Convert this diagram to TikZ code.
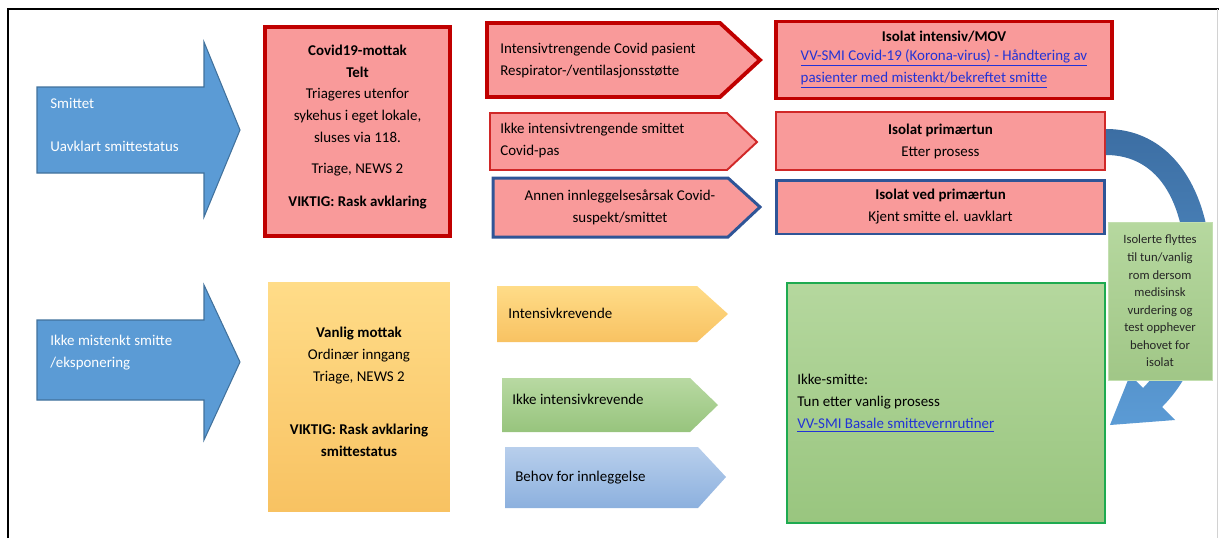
\documentclass[tikz,border=0pt]{standalone}
\usepackage{fontspec}
\setmainfont{Carlito}
\usepackage{xcolor}
\usepackage{tikz}
\usetikzlibrary{positioning,calc}
\definecolor{covred}{HTML}{C00000}
\definecolor{covredlt}{HTML}{D02828}
\definecolor{covpink}{HTML}{F99A9A}
\definecolor{covnavy}{HTML}{2F5597}
\definecolor{smblue}{HTML}{5B9BD5}
\definecolor{smbluedk}{HTML}{41719C}
\definecolor{bandtop}{HTML}{3C6EA3}
\definecolor{bandbot}{HTML}{5B9BD5}
\definecolor{orgtop}{HTML}{FFDC88}
\definecolor{orgbot}{HTML}{F8C262}
\definecolor{grntop}{HTML}{B8D9A2}
\definecolor{grnbot}{HTML}{97C47D}
\definecolor{blutop}{HTML}{B8CFEC}
\definecolor{blubot}{HTML}{8CB0DE}
\definecolor{okgreen}{HTML}{1EAA50}
\definecolor{notegrn}{HTML}{A9D18E}
\definecolor{linkblue}{HTML}{2233D6}
\newcommand{\covlink}[1]{\textcolor{linkblue}{\underline{#1}}}
\tikzset{
  casebox/.style={
    rectangle, draw=#1, fill=covpink, line width=2.2pt,
    font=\fontsize{8.5}{12.5}\selectfont, align=center,
    inner sep=0pt
  },
  casebox/.default=covred,
  caseflag/.style={
    draw=#1, fill=covpink, line width=2.2pt, line join=miter
  },
  caseflag/.default=covred,
  gradflag/.style 2 args={
    top color=#1, bottom color=#2, draw=none
  },
  bigarrow/.style={
    draw=smbluedk, fill=smblue, line width=0.6pt
  },
  flagtext/.style={
    font=\fontsize{8.5}{12.5}\selectfont, align=left,
    anchor=west, inner sep=0pt, text=#1
  },
  flagtext/.default=black,
}

\begin{document}
\begin{tikzpicture}[x=0.02cm, y=-0.02cm,
  notebox/.style={rectangle, draw=notegrn!70!white, top color=notegrn!85!white,
    bottom color=notegrn!95!black, line width=0.4pt,
    minimum width=2.08cm, minimum height=3.16cm,
    font=\fontsize{7.2}{10}\selectfont, align=center, text=black!85}]
  \useasboundingbox (0,0) rectangle (1219,538);
  \draw[line width=1.4pt] (8,538) -- (8,9) -- (1219,9);
  \draw[gray!35, line width=0.5pt] (1217.5,9) -- (1217.5,538);

  \draw[bigarrow] (37,87) -- (204,87) -- (204,42) -- (240,130) -- (204,217) -- (204,173) -- (37,173) -- cycle;
  \node[flagtext=white] (smittet) at (50,124.5) {Smittet\\[12pt]Uavklart smittestatus};
  \draw[bigarrow] (37,320) -- (204,320) -- (204,285) -- (240,362) -- (204,440) -- (204,400) -- (37,400) -- cycle;
  \node[flagtext=white] (ikkemist) at (50,353) {Ikke mistenkt smitte\\/eksponering};

  \node[casebox, minimum width=3.7cm, minimum height=4.18cm] (telt) at (357.5,131.5)
    {\textbf{Covid19-mottak}\\ \textbf{Telt}\\ Triageres utenfor\\ sykehus i eget lokale,\\ sluses via 118.\\[5pt]
     Triage, NEWS 2\\[6pt] \textbf{VIKTIG: Rask avklaring}\\[-5.5pt]\mbox{}};
  \node[rectangle, gradflag={orgtop}{orgbot}, minimum width=3.64cm, minimum height=4.6cm,
    font=\fontsize{8.5}{12.5}\selectfont, align=center, inner sep=0pt] (vanlig) at (359,397)
    {\textbf{Vanlig mottak}\\ Ordinær inngang\\ Triage, NEWS 2\\[18pt]
     \textbf{VIKTIG: Rask avklaring}\\ \textbf{smittestatus}\\[-6.5pt]\mbox{}};

  \draw[caseflag] (487,23) -- (720,23) -- (760,60) -- (720,97) -- (487,97) -- cycle;
  \node[flagtext] (intflag) at (500,60.5) {Intensivtrengende Covid pasient\\Respirator-/ventilasjonsstøtte};
  \draw[caseflag=covredlt, line width=1.1pt] (490,113) -- (727,113) -- (757,142) -- (727,170) -- (490,170) -- cycle;
  \node[flagtext] (smitflag) at (500,140.5) {Ikke intensivtrengende smittet\\Covid-pas};
  \draw[caseflag=covnavy, line width=1.7pt] (493,178) -- (728,178) -- (760,207) -- (728,237) -- (493,237) -- cycle;
  \node[flagtext, anchor=center, align=center] (annenflag) at (620,207.5) {Annen innleggelsesårsak Covid-\\suspekt/smittet};

  \draw[gradflag={orgtop}{orgbot}] (497,286) -- (697,286) -- (728,314) -- (697,342) -- (497,342) -- cycle;
  \node[flagtext] (intkrev) at (508,313) {Intensivkrevende};
  \draw[gradflag={grntop}{grnbot}] (502,378) -- (690,378) -- (718,405) -- (690,432) -- (502,432) -- cycle;
  \node[flagtext] (ikkeintkrev) at (512,399) {Ikke intensivkrevende};
  \draw[gradflag={blutop}{blubot}] (505,447) -- (698,447) -- (726,477) -- (698,508) -- (505,508) -- cycle;
  \node[flagtext] (behov) at (515,478) {Behov for innleggelse};

  \node[casebox, minimum width=6.72cm, minimum height=1.54cm] (isoint) at (944,60)
    {\textbf{Isolat intensiv/MOV}\\[1pt]
     \begin{tabular}{@{}l@{}}\covlink{VV-SMI Covid-19 (Korona-virus) - Håndtering av}\\
     \covlink{pasienter med mistenkt/bekreftet smitte}\end{tabular}};
  \node[casebox=covredlt, line width=1.1pt, minimum width=6.58cm, minimum height=1.16cm] (isoprim) at (940.5,141)
    {\textbf{Isolat primærtun}\\ Etter prosess};
  \node[casebox=covnavy, line width=1.7pt, minimum width=6.58cm, minimum height=1.08cm] (isoved) at (940.5,207)
    {\textbf{Isolat ved primærtun}\\ Kjent smitte el. uavklart};

  \node[rectangle, draw=okgreen, line width=1.1pt, top color=grntop!80!notegrn, bottom color=grnbot!90!notegrn,
    minimum width=6.36cm, minimum height=4.8cm] (ikkesmitte) at (946,403) {};
  \node[flagtext] (tunvanlig) at (797,403)
    {Ikke-smitte:\\ Tun etter vanlig prosess\\ \covlink{VV-SMI Basale smittevernrutiner}};

  \coordinate (bandout) at ($(isoprim.east)+(0,-12)$);
  \coordinate (bandin) at ($(isoprim.east)+(0,14)$);
  \coordinate (bandtip) at ($(ikkesmitte.east)+(4,22)$);
  \path[top color=bandtop, bottom color=bandbot] (bandout) .. controls (1182,129) and (1217,210) .. (1210,290)
    .. controls (1205,345) and (1187,382) .. (1162,407)
    -- (1175,420) -- (bandtip) -- (1130,375) -- (1143,388)
    .. controls (1165,365) and (1183,335) .. (1186,285)
    .. controls (1188,205) and (1160,155) .. (bandin) -- cycle;

  \node[notebox] (flyttes) at (1160,301)
    {Isolerte flyttes\\ til tun/vanlig\\ rom dersom\\ medisinsk\\ vurdering og\\ test opphever\\ behovet for\\ isolat};
\end{tikzpicture}
\end{document}
